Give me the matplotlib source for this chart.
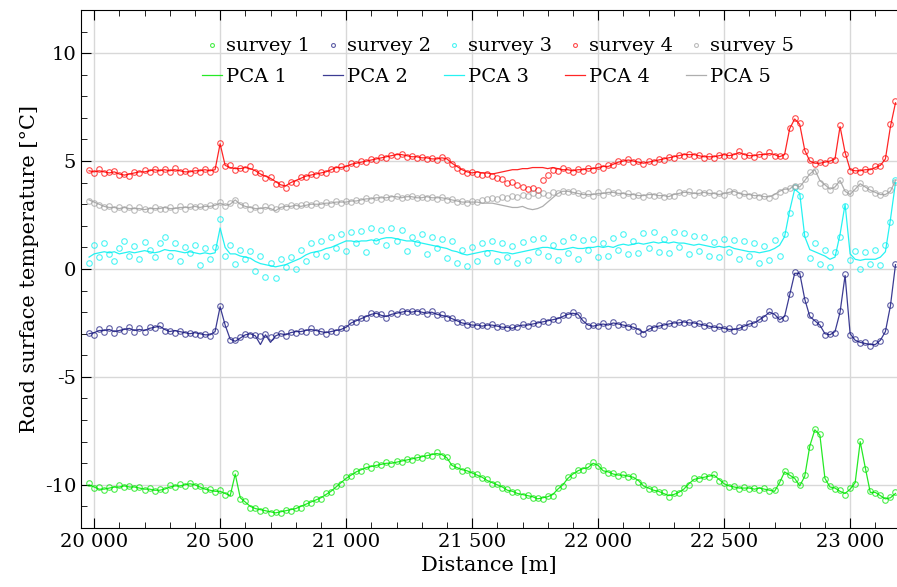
import numpy as np
import matplotlib.pyplot as plt
from matplotlib.ticker import MultipleLocator, FuncFormatter

plt.rcParams['font.family'] = ['DejaVu Serif']
plt.rcParams['axes.unicode_minus'] = False

# 距离采样: 从 19980 m 开始, 每 20 m 一个点
dist_start = 19980
dist_step = 20

# 实测数据 (survey)
survey1 = [-9.9, -10.15, -10.1, -10.25, -10.1, -10.2, -10.0, -10.1, -10.05, -10.15,
           -10.1, -10.25, -10.15, -10.3, -10.2, -10.25, -10.0, -10.1, -9.95, -10.05,
           -9.9, -10.05, -10.05, -10.25, -10.2, -10.35, -10.25, -10.45, -10.4, -9.45,
           -10.65, -10.75, -11.05, -11.05, -11.2, -11.15, -11.3, -11.25, -11.3, -11.15,
           -11.2, -11.05, -11.05, -10.85, -10.85, -10.65, -10.65, -10.4, -10.35, -10.05,
           -9.95, -9.65, -9.6, -9.35, -9.35, -9.15, -9.2, -9.05, -9.1, -8.95,
           -9.05, -8.9, -8.95, -8.8, -8.85, -8.7, -8.75, -8.6, -8.65, -8.5,
           -8.65, -8.7, -9.15, -9.15, -9.35, -9.3, -9.5, -9.5, -9.7, -9.75,
           -9.95, -9.95, -10.15, -10.2, -10.35, -10.35, -10.5, -10.45, -10.6, -10.6,
           -10.65, -10.5, -10.5, -10.15, -10.05, -9.65, -9.55, -9.3, -9.3, -9.15,
           -8.95, -9.15, -9.3, -9.45, -9.45, -9.6, -9.5, -9.65, -9.6, -9.85,
           -10.0, -10.2, -10.2, -10.35, -10.35, -10.55, -10.4, -10.4, -10.15, -10.0,
           -9.7, -9.75, -9.6, -9.65, -9.5, -9.8, -9.9, -10.1, -10.05, -10.2,
           -10.1, -10.2, -10.15, -10.25, -10.15, -10.3, -10.25, -9.85, -9.35, -9.55,
           -9.75, -10.0, -9.55, -8.25, -7.4, -7.65, -9.75, -10.05, -10.2, -10.25,
           -10.45, -10.15, -9.95, -7.95, -9.25, -10.3, -10.4, -10.45, -10.7, -10.55,
           -10.35]
survey2 = [-2.95, -3.05, -2.8, -2.9, -2.75, -2.95, -2.8, -2.85, -2.7, -2.9,
           -2.75, -2.9, -2.7, -2.75, -2.6, -2.85, -2.85, -2.95, -2.85, -3.0,
           -2.95, -3.0, -3.05, -3.0, -3.1, -2.85, -1.7, -2.55, -3.3, -3.3,
           -3.15, -3.0, -3.05, -3.05, -3.1, -3.0, -3.15, -3.05, -2.95, -3.1,
           -2.9, -2.95, -2.85, -2.9, -2.75, -2.9, -2.85, -3.0, -2.85, -2.9,
           -2.75, -2.75, -2.45, -2.45, -2.25, -2.25, -2.05, -2.1, -2.1, -2.25,
           -2.05, -2.1, -1.95, -2.0, -1.95, -2.0, -1.95, -2.1, -1.95, -2.15,
           -2.1, -2.25, -2.25, -2.45, -2.45, -2.6, -2.55, -2.65, -2.6, -2.65,
           -2.55, -2.7, -2.65, -2.75, -2.7, -2.7, -2.55, -2.65, -2.5, -2.55,
           -2.4, -2.45, -2.3, -2.35, -2.15, -2.15, -2.0, -2.15, -2.35, -2.65,
           -2.6, -2.65, -2.5, -2.65, -2.45, -2.6, -2.55, -2.7, -2.65, -2.85,
           -3.0, -2.75, -2.75, -2.6, -2.65, -2.5, -2.55, -2.45, -2.5, -2.45,
           -2.55, -2.5, -2.65, -2.6, -2.75, -2.65, -2.8, -2.75, -2.85, -2.7,
           -2.7, -2.5, -2.55, -2.3, -2.25, -1.95, -2.15, -2.3, -2.25, -1.15,
           -0.15, -0.25, -1.45, -2.15, -2.45, -2.55, -3.05, -3.0, -2.95, -1.95,
           -0.25, -3.05, -3.25, -3.45, -3.4, -3.55, -3.45, -3.35, -2.85, -1.65,
           0.25]
survey3 = [0.3, 1.1, 0.55, 1.2, 0.7, 0.35, 0.95, 1.3, 0.6, 1.05,
           0.45, 1.25, 0.9, 0.55, 1.2, 1.5, 0.6, 1.2, 0.35, 1.0,
           0.75, 1.1, 0.2, 0.95, 0.45, 1.0, 2.3, 0.6, 1.1, 0.25,
           0.9, 0.45, 0.85, -0.1, 0.6, -0.35, 0.3, -0.4, 0.45, 0.1,
           0.55, 0.0, 0.9, 0.35, 1.2, 0.7, 1.3, 0.6, 1.5, 0.95,
           1.6, 0.85, 1.7, 1.2, 1.75, 0.8, 1.9, 1.3, 1.8, 1.1,
           1.9, 1.3, 1.8, 0.85, 1.5, 1.2, 1.6, 0.7, 1.5, 0.95,
           1.4, 0.5, 1.3, 0.3, 0.9, 0.15, 1.0, 0.35, 1.2, 0.75,
           1.3, 0.35, 1.2, 0.55, 1.05, 0.3, 1.25, 0.4, 1.4, 0.8,
           1.45, 0.6, 1.1, 0.4, 1.3, 0.75, 1.5, 0.45, 1.35, 0.9,
           1.4, 0.55, 1.2, 0.6, 1.45, 0.9, 1.6, 0.7, 1.3, 0.75,
           1.65, 0.95, 1.7, 0.8, 1.4, 0.75, 1.7, 1.0, 1.65, 0.7,
           1.55, 0.85, 1.5, 0.6, 1.25, 0.55, 1.4, 0.8, 1.35, 0.45,
           1.3, 0.6, 1.2, 0.3, 1.05, 0.4, 1.35, 0.6, 1.6, 2.6,
           3.8, 3.4, 1.6, 0.5, 1.2, 0.25, 0.9, 0.1, 0.8, 1.5,
           2.9, 0.4, 0.85, 0.0, 0.8, 0.25, 0.9, 0.2, 1.1, 2.2,
           4.1]
survey4 = [4.6, 4.45, 4.65, 4.45, 4.5, 4.55, 4.35, 4.4, 4.3, 4.5,
           4.45, 4.6, 4.5, 4.65, 4.5, 4.65, 4.5, 4.7, 4.5, 4.55,
           4.45, 4.6, 4.5, 4.65, 4.5, 4.65, 5.85, 4.75, 4.8, 4.6,
           4.7, 4.65, 4.75, 4.5, 4.45, 4.2, 4.25, 3.95, 3.95, 3.75,
           4.05, 4.0, 4.25, 4.25, 4.4, 4.35, 4.5, 4.45, 4.65, 4.65,
           4.75, 4.7, 4.9, 4.85, 5.0, 4.95, 5.1, 5.05, 5.2, 5.15,
           5.3, 5.25, 5.35, 5.2, 5.25, 5.15, 5.2, 5.1, 5.15, 5.05,
           5.2, 5.05, 4.85, 4.7, 4.55, 4.45, 4.5, 4.4, 4.35, 4.4,
           4.3, 4.2, 4.15, 4.0, 4.05, 3.9, 3.8, 3.7, 3.75, 3.65,
           4.1, 4.35, 4.6, 4.55, 4.7, 4.6, 4.5, 4.65, 4.55, 4.7,
           4.6, 4.75, 4.7, 4.8, 4.8, 5.0, 4.95, 5.1, 4.95, 5.0,
           4.85, 5.0, 4.95, 5.1, 5.05, 5.2, 5.15, 5.3, 5.25, 5.35,
           5.25, 5.3, 5.15, 5.25, 5.15, 5.3, 5.25, 5.3, 5.25, 5.45,
           5.25, 5.3, 5.2, 5.35, 5.25, 5.4, 5.25, 5.25, 5.25, 6.55,
           7.0, 6.75, 5.45, 5.05, 4.85, 4.95, 4.9, 5.05, 5.05, 6.65,
           5.35, 4.55, 4.6, 4.5, 4.65, 4.55, 4.75, 4.75, 5.15, 6.7,
           7.8]
survey5 = [3.15, 3.05, 2.95, 2.85, 2.9, 2.8, 2.85, 2.8, 2.85, 2.75,
           2.85, 2.8, 2.75, 2.85, 2.8, 2.8, 2.85, 2.75, 2.9, 2.8,
           2.9, 2.85, 2.9, 2.85, 2.95, 2.9, 3.1, 2.9, 3.05, 3.2,
           2.95, 2.95, 2.8, 2.85, 2.75, 2.9, 2.85, 2.8, 2.9, 2.85,
           2.95, 2.9, 2.95, 3.0, 2.95, 3.05, 2.95, 3.1, 3.0, 3.15,
           3.05, 3.15, 3.1, 3.2, 3.15, 3.3, 3.2, 3.35, 3.25, 3.35,
           3.3, 3.4, 3.3, 3.35, 3.4, 3.3, 3.35, 3.3, 3.35, 3.25,
           3.35, 3.2, 3.25, 3.1, 3.15, 3.05, 3.15, 3.1, 3.2, 3.25,
           3.3, 3.25, 3.35, 3.3, 3.4, 3.35, 3.45, 3.4, 3.5, 3.45,
           3.5, 3.45, 3.55, 3.5, 3.6, 3.55, 3.6, 3.5, 3.45, 3.5,
           3.4, 3.55, 3.45, 3.6, 3.5, 3.55, 3.45, 3.5, 3.4, 3.45,
           3.35, 3.45, 3.4, 3.45, 3.35, 3.4, 3.4, 3.55, 3.5, 3.6,
           3.45, 3.55, 3.5, 3.55, 3.45, 3.5, 3.45, 3.6, 3.55, 3.45,
           3.5, 3.4, 3.45, 3.35, 3.4, 3.3, 3.4, 3.55, 3.65, 3.75,
           3.85, 3.85, 4.15, 4.5, 4.55, 4.0, 3.85, 3.65, 3.85, 4.1,
           3.55, 3.5, 3.75, 4.0, 3.75, 3.7, 3.5, 3.45, 3.5, 3.65,
           4.05]

# PCA 重构曲线
pca1 = [-10.0, -10.1, -10.2, -10.2, -10.15, -10.1, -10.1, -10.05, -10.1, -10.1,
        -10.15, -10.2, -10.2, -10.25, -10.25, -10.2, -10.1, -10.05, -10.05, -10.0,
        -9.95, -10.0, -10.1, -10.2, -10.25, -10.3, -10.3, -10.4, -10.5, -9.5,
        -10.6, -10.8, -11.0, -11.1, -11.15, -11.2, -11.25, -11.3, -11.25, -11.2,
        -11.15, -11.1, -11.0, -10.9, -10.8, -10.7, -10.6, -10.45, -10.3, -10.1,
        -9.9, -9.7, -9.55, -9.4, -9.3, -9.2, -9.15, -9.1, -9.05, -9.0,
        -9.0, -8.95, -8.9, -8.85, -8.8, -8.75, -8.7, -8.65, -8.6, -8.55,
        -8.6, -8.75, -9.1, -9.2, -9.3, -9.35, -9.45, -9.55, -9.65, -9.8,
        -9.9, -10.0, -10.1, -10.25, -10.3, -10.4, -10.45, -10.5, -10.55, -10.65,
        -10.6, -10.55, -10.45, -10.2, -10.0, -9.7, -9.5, -9.35, -9.25, -9.2,
        -9.0, -9.1, -9.35, -9.4, -9.5, -9.55, -9.55, -9.6, -9.65, -9.8,
        -10.05, -10.15, -10.25, -10.3, -10.4, -10.5, -10.45, -10.35, -10.2, -9.95,
        -9.75, -9.7, -9.65, -9.6, -9.55, -9.75, -9.95, -10.05, -10.1, -10.15,
        -10.15, -10.15, -10.2, -10.15, -10.2, -10.25, -10.3, -9.9, -9.4, -9.55,
        -9.7, -10.05, -9.6, -8.2, -7.45, -7.7, -9.7, -10.1, -10.15, -10.3,
        -10.4, -10.2, -9.9, -8.0, -9.2, -10.35, -10.35, -10.5, -10.65, -10.6,
        -10.4]
pca2 = [-3.0, -2.95, -2.85, -2.85, -2.8, -2.9, -2.85, -2.8, -2.75, -2.85,
        -2.8, -2.85, -2.75, -2.7, -2.65, -2.8, -2.9, -2.85, -2.9, -2.95,
        -3.0, -2.95, -3.0, -3.05, -3.05, -2.9, -1.75, -2.6, -3.25, -3.35,
        -3.2, -3.05, -3.0, -3.1, -3.5, -3.05, -3.4, -3.1, -3.0, -3.05,
        -2.95, -2.9, -2.9, -2.85, -2.8, -2.85, -2.9, -2.95, -2.9, -2.85,
        -2.8, -2.7, -2.5, -2.4, -2.3, -2.2, -2.1, -2.05, -2.15, -2.2,
        -2.1, -2.05, -2.0, -1.95, -2.0, -1.95, -2.0, -2.05, -2.0, -2.1,
        -2.15, -2.2, -2.3, -2.4, -2.5, -2.55, -2.6, -2.6, -2.65, -2.6,
        -2.6, -2.65, -2.7, -2.7, -2.75, -2.65, -2.6, -2.6, -2.55, -2.5,
        -2.45, -2.4, -2.35, -2.3, -2.2, -2.1, -2.05, -2.1, -2.4, -2.6,
        -2.65, -2.6, -2.55, -2.6, -2.5, -2.55, -2.6, -2.65, -2.7, -2.8,
        -2.95, -2.8, -2.7, -2.65, -2.6, -2.55, -2.5, -2.5, -2.45, -2.5,
        -2.5, -2.55, -2.6, -2.65, -2.7, -2.7, -2.75, -2.8, -2.8, -2.75,
        -2.65, -2.55, -2.5, -2.35, -2.2, -2.0, -2.1, -2.35, -2.2, -1.2,
        -0.2, -0.2, -1.4, -2.2, -2.4, -2.6, -3.0, -3.05, -2.9, -2.0,
        -0.3, -3.0, -3.3, -3.4, -3.45, -3.5, -3.5, -3.3, -2.9, -1.7,
        0.2]
pca3 = [0.55, 0.7, 0.75, 0.8, 0.75, 0.8, 0.7, 0.75, 0.8, 0.75,
        0.8, 0.85, 0.8, 0.75, 0.8, 0.9, 0.85, 0.85, 0.8, 0.75,
        0.8, 0.75, 0.7, 0.75, 0.7, 0.75, 1.9, 1.0, 0.7, 0.7,
        0.6, 0.55, 0.5, 0.35, 0.25, 0.2, 0.15, 0.1, 0.15, 0.2,
        0.3, 0.4, 0.5, 0.65, 0.75, 0.8, 0.85, 0.95, 1.0, 1.1,
        1.2, 1.3, 1.3, 1.25, 1.3, 1.3, 1.35, 1.3, 1.4, 1.45,
        1.45, 1.4, 1.35, 1.3, 1.3, 1.25, 1.2, 1.15, 1.1, 1.05,
        1.0, 0.95, 0.85, 0.8, 0.7, 0.65, 0.7, 0.75, 0.8, 0.85,
        0.85, 0.8, 0.75, 0.75, 0.7, 0.75, 0.8, 0.85, 0.9, 0.95,
        1.0, 1.0, 0.95, 0.9, 0.9, 0.95, 1.0, 0.95, 0.95, 1.0,
        1.0, 1.05, 1.0, 1.05, 1.0, 1.1, 1.15, 1.1, 1.15, 1.2,
        1.15, 1.2, 1.25, 1.2, 1.25, 1.2, 1.25, 1.2, 1.2, 1.15,
        1.1, 1.15, 1.1, 1.05, 1.0, 1.05, 1.0, 1.05, 0.95, 0.9,
        0.85, 0.8, 0.8, 0.75, 0.8, 0.85, 0.95, 1.1, 1.5, 2.7,
        3.7, 3.5, 1.5, 0.9, 0.8, 0.7, 0.6, 0.45, 0.55, 1.6,
        3.0, 0.7, 0.45, 0.4, 0.45, 0.45, 0.45, 0.55, 0.8, 2.3,
        4.0]
pca4 = [4.55, 4.5, 4.55, 4.5, 4.45, 4.5, 4.4, 4.35, 4.4, 4.45,
        4.5, 4.5, 4.55, 4.6, 4.55, 4.6, 4.55, 4.6, 4.55, 4.5,
        4.5, 4.55, 4.55, 4.6, 4.55, 4.6, 5.8, 4.8, 4.7, 4.65,
        4.65, 4.7, 4.65, 4.55, 4.4, 4.3, 4.2, 4.05, 3.9, 3.85,
        4.0, 4.1, 4.2, 4.3, 4.35, 4.4, 4.45, 4.5, 4.6, 4.7,
        4.7, 4.75, 4.85, 4.9, 4.95, 5.0, 5.05, 5.1, 5.15, 5.2,
        5.25, 5.3, 5.3, 5.25, 5.2, 5.2, 5.15, 5.15, 5.1, 5.1,
        5.15, 5.1, 4.9, 4.75, 4.6, 4.5, 4.45, 4.5, 4.45, 4.45,
        4.4, 4.45, 4.5, 4.55, 4.6, 4.6, 4.65, 4.65, 4.7, 4.7,
        4.7, 4.65, 4.7, 4.65, 4.6, 4.6, 4.55, 4.6, 4.6, 4.65,
        4.65, 4.7, 4.75, 4.75, 4.85, 4.95, 5.0, 5.05, 5.0, 4.95,
        4.9, 4.95, 5.0, 5.05, 5.1, 5.15, 5.2, 5.25, 5.3, 5.3,
        5.3, 5.25, 5.2, 5.2, 5.2, 5.25, 5.3, 5.25, 5.3, 5.4,
        5.3, 5.25, 5.25, 5.3, 5.3, 5.35, 5.3, 5.2, 5.3, 6.5,
        6.95, 6.7, 5.5, 5.0, 4.9, 4.9, 4.95, 5.0, 5.1, 6.6,
        5.4, 4.6, 4.55, 4.55, 4.6, 4.6, 4.7, 4.8, 5.1, 6.6,
        7.7]
pca5 = [3.2, 3.1, 3.0, 2.9, 2.85, 2.85, 2.8, 2.85, 2.8, 2.8,
        2.8, 2.75, 2.8, 2.8, 2.8, 2.85, 2.8, 2.8, 2.85, 2.85,
        2.85, 2.9, 2.85, 2.9, 2.9, 2.95, 3.05, 2.95, 3.0, 3.2,
        3.0, 2.9, 2.85, 2.8, 2.8, 2.85, 2.8, 2.7, 2.85, 2.9,
        2.9, 2.95, 2.9, 2.95, 3.0, 3.0, 3.0, 3.05, 3.05, 3.1,
        3.1, 3.1, 3.15, 3.15, 3.2, 3.25, 3.25, 3.3, 3.3, 3.3,
        3.35, 3.35, 3.3, 3.35, 3.35, 3.3, 3.3, 3.35, 3.3, 3.3,
        3.3, 3.25, 3.2, 3.15, 3.1, 3.1, 3.1, 3.1, 3.05, 3.05,
        3.05, 3.0, 2.95, 2.9, 2.85, 2.85, 2.9, 2.8, 2.75, 2.8,
        2.9, 3.1, 3.3, 3.5, 3.6, 3.6, 3.55, 3.5, 3.45, 3.45,
        3.45, 3.5, 3.5, 3.55, 3.55, 3.5, 3.5, 3.45, 3.45, 3.4,
        3.4, 3.45, 3.45, 3.4, 3.4, 3.35, 3.45, 3.5, 3.55, 3.55,
        3.5, 3.5, 3.55, 3.5, 3.5, 3.45, 3.5, 3.55, 3.6, 3.5,
        3.45, 3.45, 3.4, 3.4, 3.35, 3.35, 3.45, 3.6, 3.7, 3.7,
        3.9, 3.8, 4.1, 4.4, 4.6, 4.1, 3.9, 3.7, 3.8, 4.1,
        3.6, 3.45, 3.7, 3.95, 3.8, 3.65, 3.55, 3.45, 3.45, 3.6,
        4.1]

surveys = [survey1, survey2, survey3, survey4, survey5]
pcas = [pca1, pca2, pca3, pca4, pca5]
colors = ['#00e600', '#1a1a80', '#00f0f0', '#ff0000', '#a0a0a0']

dist = dist_start + dist_step * np.arange(len(survey1))

fig = plt.figure(figsize=(8.97, 5.87), dpi=100)
ax = fig.add_axes([0.0903, 0.1005, 0.9097, 0.8825])

handles = []
for i in range(5):
    h1, = ax.plot(dist, surveys[i], 'o', ms=4, mfc='none', mec=colors[i],
                  mew=0.8, alpha=0.7, label=f'survey {i+1}')
    h2, = ax.plot(dist, pcas[i], '-', lw=0.9, color=colors[i], alpha=0.85,
                  label=f'PCA {i+1}')
    handles += [h1, h2]

ax.set_xlim(19948, 23186)
ax.set_ylim(-12, 12)
ax.xaxis.set_major_locator(MultipleLocator(500))
ax.xaxis.set_minor_locator(MultipleLocator(100))
ax.yaxis.set_major_locator(MultipleLocator(5))
ax.yaxis.set_minor_locator(MultipleLocator(1))
ax.xaxis.set_major_formatter(FuncFormatter(lambda v, p: f'{int(v):,}'.replace(',', ' ')))
ax.yaxis.set_major_formatter(FuncFormatter(lambda v, p: f'{int(v)}'))
ax.tick_params(which='both', direction='in', top=True, right=False, labelsize=14)
ax.tick_params(which='major', length=7)
ax.tick_params(which='minor', length=4)
ax.spines['right'].set_visible(False)
ax.grid(True, which='major', color='#d8d8d8', lw=1)
ax.set_axisbelow(True)

ax.set_xlabel('Distance [m]', fontsize=15)
ax.set_ylabel('Road surface temperature [°C]', fontsize=15)

# 图例: 两行, 上行为测量点, 下行为 PCA 曲线
ax.legend(handles=handles, loc='upper center', bbox_to_anchor=(0.511, 0.981), ncol=5,
          frameon=False, fontsize=14, handlelength=1.0, handletextpad=0.2,
          columnspacing=0.7, labelspacing=0.65, numpoints=1, markerscale=0.7)

fig.savefig('out.png', dpi=100)
